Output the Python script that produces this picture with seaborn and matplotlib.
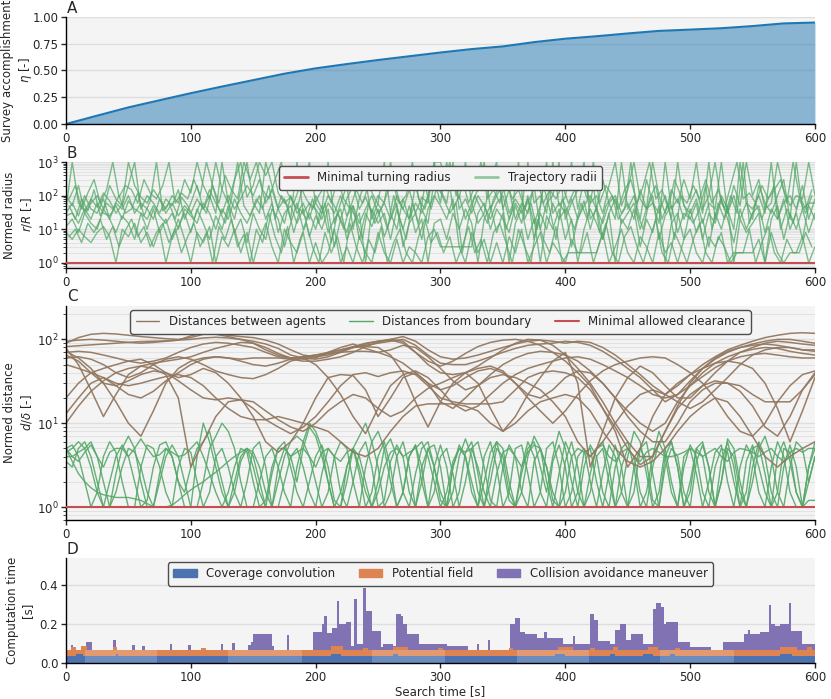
import matplotlib as mpl
mpl.use('Agg')

import matplotlib.pyplot as plt
from matplotlib.lines import Line2D
from matplotlib.patches import Patch
import seaborn as sns
import pandas as pd
import numpy as np

sns.set_style('whitegrid', {'axes.facecolor': '#f4f4f4', 'grid.color': '#dedede',
                            'axes.edgecolor': 'black', 'xtick.bottom': True, 'ytick.left': True})
plt.rcParams['font.family'] = ['DejaVu Sans']
FS = 8.5

deep = sns.color_palette('deep')
blue, orange, green, red, purple, brown = deep[0], deep[1], deep[2], deep[3], deep[4], deep[5]

# ---- A: survey accomplishment
t_a = [0, 25, 50, 75, 100, 125, 150, 175, 200, 225, 250, 275, 300, 325, 350, 375, 400,
       425, 450, 475, 500, 525, 550, 575, 600]
eta = [0.0, 0.078, 0.155, 0.222, 0.288, 0.35, 0.41, 0.47, 0.52, 0.56, 0.598, 0.633, 0.668,
       0.70, 0.725, 0.765, 0.797, 0.82, 0.846, 0.87, 0.882, 0.895, 0.915, 0.94, 0.948]

# ---- B: trajectory radii (r/R), every 5 s and on the half-step grid
t_b = list(range(0, 601, 5))
t_b_half = [i + 2.5 for i in range(0, 600, 5)]
radii_1 = [40, 1000, 60, 35, 80, 45, 120, 70, 30, 55,
           1000, 200, 90, 60, 150, 80, 40, 100, 60, 300,
           120, 1000, 200, 80, 1000, 150, 60, 300, 1000, 90,
           200, 1000, 400, 1000, 120, 60, 90, 40, 200, 1000,
           60, 30, 100, 50, 20, 80, 200, 40, 90, 30,
           100, 60, 1000, 80, 40, 150, 30, 90, 60, 1000,
           1000, 200, 500, 80, 1000, 60, 150, 1000, 40, 100,
           200, 30, 80, 40, 1000, 60, 100, 30, 1000, 50,
           90, 1000, 40, 300, 60, 100, 30, 200, 1000, 50,
           150, 1000, 80, 40, 1000, 100, 30, 150, 60, 300,
           80, 1000, 40, 100, 1000, 60, 30, 200, 50, 1000,
           100, 300, 40, 60, 1000, 150, 50, 100, 80, 1000,
           100]
radii_2 = [25, 30, 15, 40, 20, 60, 30, 25, 50, 20,
           70, 40, 30, 20, 50, 25, 15, 30, 10, 40,
           25, 15, 60, 30, 10, 40, 20, 80, 30, 15,
           40, 100, 20, 60, 8, 30, 50, 15, 40, 6,
           25, 10, 40, 3, 20, 8, 50, 5, 30, 12,
           40, 6, 20, 60, 3, 15, 30, 5, 40, 100,
           50, 20, 80, 3, 3, 3, 30, 60, 10, 40,
           20, 8, 50, 15, 100, 5, 30, 10, 60, 20,
           40, 3, 20, 70, 10, 50, 5, 30, 80, 15,
           30, 60, 10, 40, 100, 5, 25, 50, 8, 30,
           20, 60, 5, 30, 15, 80, 20, 4, 40, 10,
           30, 50, 8, 40, 20, 80, 10, 30, 5, 50,
           20]
radii_3 = [8, 5, 10, 6, 4, 8, 12, 6, 1, 10,
           6, 15, 4, 8, 3, 10, 1, 6, 20, 5,
           1, 8, 4, 12, 1, 6, 3, 10, 2, 8,
           1, 5, 15, 3, 1, 10, 4, 2, 8, 1,
           4, 1, 2, 10, 1, 3, 1, 6, 2, 1,
           8, 2, 1, 5, 1, 3, 2, 1, 6, 10,
           3, 3, 3, 3, 1, 8, 2, 5, 1, 4,
           1, 6, 2, 10, 1, 3, 8, 1, 4, 2,
           1, 5, 2, 2, 2, 2, 8, 1, 3, 10,
           2, 1, 6, 3, 1, 8, 2, 4, 1, 5,
           10, 2, 1, 6, 3, 8, 1, 2, 2, 2,
           2, 5, 1, 8, 2, 1, 2, 2, 6, 1,
           3]
radii_4 = [100, 50, 200, 30, 60, 100, 40, 200, 80, 50,
           200, 1000, 40, 100, 60, 30, 80, 50, 150, 20,
           60, 200, 40, 100, 30, 1000, 60, 20, 150, 1000,
           60, 30, 1000, 200, 40, 15, 100, 30, 60, 20,
           100, 40, 1000, 15, 60, 200, 10, 80, 300, 20,
           60, 1000, 30, 10, 80, 20, 200, 40, 15, 300,
           60, 1000, 40, 100, 20, 60, 15, 30, 300, 1000,
           40, 150, 20, 60, 30, 200, 10, 60, 100, 1000,
           20, 60, 150, 1000, 20, 40, 300, 60, 20, 1000,
           40, 100, 20, 300, 60, 15, 1000, 40, 80, 20,
           60, 150, 30, 1000, 20, 100, 40, 10, 1000, 60,
           20, 200, 60, 30, 100, 300, 20, 1000, 40, 60,
           60]
radii_5 = [12, 20, 8, 30, 15, 10, 40, 20, 8, 25,
           15, 5, 30, 10, 40, 8, 20, 5, 12, 30,
           8, 40, 15, 5, 25, 10, 50, 8, 20, 4,
           30, 10, 5, 40, 20, 3, 15, 60, 10, 30,
           10, 50, 8, 20, 40, 5, 15, 30, 1, 40,
           15, 30, 5, 40, 10, 50, 8, 20, 1, 15,
           20, 5, 30, 10, 40, 15, 1, 20, 50, 8,
           30, 1, 15, 40, 5, 20, 1, 25, 10, 40,
           5, 20, 1, 10, 40, 15, 5, 30, 1, 20,
           10, 40, 3, 20, 8, 50, 1, 15, 30, 5,
           40, 8, 20, 3, 30, 10, 50, 1, 20, 8,
           15, 30, 1, 20, 50, 5, 30, 10, 40, 8,
           30]
radii_6 = [30, 60, 25, 100, 40, 30, 80, 20, 60, 40,
           100, 30, 60, 40, 20, 80, 30, 60, 25, 50,
           30, 80, 40, 150, 60, 30, 100, 40, 80, 200,
           100, 300, 60, 150, 40, 80, 20, 1000, 30, 60,
           40, 20, 60, 30, 100, 25, 50, 15, 40, 100,
           30, 60, 20, 100, 40, 20, 60, 30, 100, 1000,
           150, 60, 1000, 40, 80, 30, 100, 50, 20, 60,
           100, 20, 60, 30, 80, 15, 50, 1000, 30, 60,
           30, 80, 20, 50, 100, 40, 15, 60, 100, 30,
           60, 20, 150, 40, 60, 30, 100, 20, 1000, 50,
           30, 80, 15, 60, 40, 1000, 30, 100, 20, 60,
           40, 100, 30, 1000, 20, 60, 100, 40, 200, 20,
           80]
radii_7 = [50, 20, 80, 35, 150, 25, 60, 40, 100, 30,
           40, 120, 25, 70, 1000, 35, 60, 20, 90, 50,
           20, 60, 30, 200, 40, 15, 80, 1000, 50, 25,
           80, 40, 200, 20, 100, 50, 8, 40, 20, 80,
           15, 60, 4, 30, 10, 50, 20, 5, 60, 15,
           40, 10, 100, 20, 5, 60, 15, 200, 40, 200,
           80, 30, 60, 2, 20, 100, 40, 15, 80, 200,
           10, 40, 1000, 20, 60, 10, 200, 40, 5, 80,
           30, 10, 60, 20, 200, 8, 50, 100, 20, 40,
           1000, 30, 10, 80, 200, 20, 60, 5, 100, 30,
           15, 40, 200, 10, 60, 20, 100, 30, 1000, 15,
           60, 20, 80, 200, 10, 40, 15, 80, 30, 100]
radii_8 = [6, 10, 4, 15, 8, 20, 5, 12, 3, 9,
           20, 6, 12, 3, 8, 15, 4, 10, 2, 6,
           15, 3, 8, 1, 12, 5, 20, 3, 7, 1,
           10, 4, 30, 6, 2, 12, 1, 5, 15, 3,
           1, 8, 2, 6, 1, 15, 3, 1, 5, 2,
           12, 1, 4, 10, 2, 1, 6, 20, 4, 8,
           2, 6, 1, 3, 12, 2, 5, 1, 8, 15,
           4, 1, 10, 3, 1, 20, 5, 2, 12, 1,
           2, 2, 2, 8, 1, 4, 15, 2, 1, 6,
           12, 3, 1, 5, 20, 2, 1, 8, 3, 1,
           5, 15, 2, 1, 6, 3, 1, 2, 2, 10,
           1, 4, 12, 2, 1, 5, 2, 2, 8, 3]
radii_9 = [80, 200, 40, 120, 300, 60, 150, 1000, 90, 200,
           150, 60, 300, 120, 80, 200, 1000, 60, 120, 80,
           300, 100, 1000, 200, 60, 400, 150, 80, 1000, 300,
           1000, 150, 80, 300, 1000, 120, 60, 200, 80, 40,
           100, 200, 60, 300, 80, 40, 150, 60, 200, 80,
           40, 120, 300, 60, 100, 1000, 80, 40, 200, 500,
           200, 1000, 100, 300, 60, 200, 1000, 80, 150, 60,
           300, 80, 150, 40, 100, 300, 60, 150, 80, 200,
           60, 150, 300, 80, 1000, 60, 200, 100, 40, 150,
           300, 60, 200, 1000, 80, 150, 40, 300, 100, 60,
           200, 80, 300, 60, 150, 40, 200, 1000, 80, 120,
           60, 200, 80, 150, 300, 60, 1000, 100, 40, 150]

# ---- C: distances between agents (every 10 s) and from boundary (every 5 s)
t_pair = list(range(0, 601, 10))
pair_1 = [90, 105, 115, 118, 116, 112, 108, 105, 102, 100,
          105, 115, 118, 112, 108, 105, 98, 88, 75, 65,
          62, 65, 72, 80, 88, 95, 100, 108, 95, 75,
          62, 58, 60, 65, 72, 80, 88, 95, 98, 95,
          90, 95, 92, 80, 65, 50, 38, 28, 22, 28,
          38, 50, 62, 75, 85, 95, 105, 112, 118, 120,
          118]
pair_2 = [82, 84, 86, 88, 90, 92, 94, 95, 96, 98,
          100, 104, 106, 104, 100, 95, 88, 78, 65, 60,
          58, 62, 70, 80, 85, 90, 95, 100, 85, 65,
          52, 50, 50, 55, 62, 70, 78, 85, 88, 90,
          95, 92, 85, 72, 58, 45, 35, 25, 18, 22,
          32, 45, 58, 70, 80, 88, 95, 100, 100, 95,
          90]
pair_3 = [78, 50, 25, 12, 22, 38, 48, 52, 55, 58,
          62, 70, 78, 85, 92, 90, 80, 68, 60, 58,
          60, 70, 80, 88, 78, 70, 75, 85, 80, 62,
          45, 32, 25, 28, 38, 50, 60, 68, 72, 70,
          65, 55, 42, 30, 20, 14, 10, 8, 10, 18,
          28, 40, 52, 62, 70, 76, 80, 78, 72, 68,
          65]
pair_4 = [72, 60, 45, 30, 18, 10, 7, 14, 30, 45,
          55, 60, 62, 60, 58, 60, 60, 60, 58, 55,
          55, 58, 62, 70, 82, 92, 100, 95, 70, 50,
          40, 38, 40, 48, 60, 75, 90, 100, 98, 85,
          65, 45, 30, 18, 10, 6, 4, 4, 8, 16,
          30, 45, 60, 72, 80, 85, 88, 85, 80, 75,
          75]
pair_5 = [10, 16, 24, 32, 40, 45, 48, 45, 38, 20,
          3, 6, 12, 18, 19, 18, 14, 11, 9, 8,
          10, 14, 18, 22, 20, 15, 12, 14, 20, 26,
          30, 35, 40, 45, 48, 42, 30, 20, 14, 10,
          14, 22, 32, 42, 50, 55, 60, 62, 60, 50,
          40, 30, 20, 12, 8, 7, 10, 18, 28, 38,
          42]
pair_6 = [20, 30, 40, 45, 50, 55, 58, 50, 40, 35,
          38, 45, 40, 30, 20, 12, 6, 4.5, 6, 10,
          20, 35, 38, 37, 25, 12, 20, 35, 40, 30,
          18, 15, 20, 28, 35, 38, 35, 30, 25, 18,
          12, 6, 4, 6, 10, 16, 22, 25, 22, 18,
          15, 18, 25, 35, 50, 65, 75, 80, 80, 75,
          72]
pair_7 = [13, 20, 30, 35, 28, 22, 20, 24, 32, 40,
          50, 58, 62, 60, 55, 50, 48, 52, 58, 62,
          65, 68, 70, 72, 72, 70, 62, 52, 40, 30,
          25, 28, 35, 42, 45, 40, 30, 22, 20, 25,
          35, 42, 40, 30, 20, 12, 8, 6, 6, 10,
          18, 25, 30, 30, 28, 22, 18, 18, 18, 25,
          40]
pair_8 = [65, 55, 40, 30, 28, 32, 38, 42, 40, 32,
          25, 20, 19, 20, 19, 15, 11, 9, 7.5, 9,
          12, 18, 28, 38, 40, 36, 40, 42, 38, 28,
          20, 18, 17, 17, 17, 18, 25, 35, 40, 42,
          40, 35, 25, 15, 9, 5, 3.2, 4, 8, 15,
          22, 28, 32, 30, 24, 16, 9, 7, 12, 25,
          38]
pair_9 = [60, 62, 58, 50, 40, 35, 40, 50, 58, 62,
          58, 50, 42, 38, 35, 34, 38, 45, 55, 60,
          50, 35, 22, 12, 7.5, 15, 28, 38, 42, 35,
          25, 17, 14, 16, 22, 30, 38, 45, 50, 55,
          60, 62, 58, 50, 42, 35, 28, 22, 20, 22,
          28, 36, 46, 55, 62, 66, 68, 65, 62, 60,
          60]
pair_10 = [70, 72, 70, 65, 60, 55, 52, 55, 60, 70,
           80, 88, 92, 90, 85, 80, 70, 62, 60, 62,
           65, 70, 75, 80, 82, 80, 65, 40, 18, 9,
           18, 30, 40, 30, 15, 8, 12, 22, 35, 55,
           70, 30, 3, 8, 20, 35, 48, 40, 28, 20,
           20, 28, 40, 55, 70, 80, 90, 95, 92, 88,
           85]
pair_11 = [95, 98, 100, 98, 95, 92, 90, 92, 95, 98,
           110, 120, 115, 108, 100, 90, 75, 65, 60, 60,
           62, 68, 75, 82, 90, 95, 98, 90, 70, 55,
           48, 55, 68, 82, 92, 98, 100, 95, 85, 70,
           55, 40, 28, 15, 8, 3, 5, 12, 22, 30,
           38, 45, 52, 55, 52, 45, 30, 15, 6, 14,
           35]
pair_12 = [50, 45, 40, 35, 30, 28, 30, 33, 36, 38,
           35, 28, 20, 15, 12, 11, 11, 12, 11, 10,
           9, 8, 6, 4.5, 4, 5, 8, 12, 16, 17,
           17, 17, 16, 14, 10, 8, 10, 14, 18, 20,
           22, 20, 14, 8, 5, 3.5, 3, 3.5, 5, 8,
           12, 16, 20, 18, 12, 7, 4, 3, 4, 5,
           6]

t_bound = list(range(0, 601, 5))
bound_1 = [5, 4, 3.5, 4.5, 5.5, 4, 2, 1, 1.5, 3,
           5, 4.5, 3, 1.5, 1, 2.5, 5, 4, 2, 1,
           1, 4, 10, 6, 3, 1.5, 1, 2, 4, 5,
           3, 1.5, 1, 2.5, 5, 6, 3, 1.5, 1, 2,
           4, 5.5, 3, 1.2, 1, 3, 5, 2.5, 1, 1.5,
           4, 6, 3, 1, 1.5, 4, 5.5, 2, 1, 3,
           5.5, 3, 1, 1.5, 4.5, 6, 2.5, 1, 2, 5,
           4, 1.5, 1, 3, 6, 4, 1.5, 1, 3.5, 5.5,
           3, 1, 1.5, 4.5, 5, 2, 1, 2.5, 5.5, 3,
           1, 1.5, 5, 6, 2.5, 1, 3, 5, 4, 1.5,
           1, 3.5, 5.5, 3, 1, 2, 5, 4, 1.5, 1,
           3, 6, 4, 1.5, 1, 3, 5.5, 3, 1, 2,
           4]
bound_2 = [4.5, 5, 6, 5, 3, 1.5, 1, 2, 4, 5.5,
           4, 2, 1, 1.2, 3, 5.5, 6, 4, 2, 1.5,
           3, 5, 6, 8, 4, 2, 1, 1.5, 3.5, 5,
           4, 2, 1, 1, 3, 5, 4, 2, 5, 9,
           7, 4, 2, 1, 1.5, 3, 5, 4, 2, 1,
           2, 5, 6.5, 4, 1.5, 1, 2.5, 5, 6, 3,
           1.5, 1, 3, 5.5, 4, 2, 1, 2, 4.5, 6,
           3, 1.2, 1, 2.5, 5, 6, 3, 1.5, 4, 8,
           5, 2, 1, 3, 5.5, 4, 1.5, 1, 3, 5,
           6, 3, 1, 1.5, 4, 8, 5, 2, 1, 3,
           5.5, 4, 1.5, 1, 3, 5, 4.5, 2, 1, 3.5,
           5.5, 3, 1.5, 1, 4, 6, 3.5, 1.5, 1, 3,
           5]
bound_3 = [5, 3.5, 2.5, 2, 1.7, 1.5, 1.4, 1.35, 1.3, 1.3,
           1.3, 1.25, 1.2, 1.1, 1, 1, 1, 1.05, 1.2, 1.4,
           1.6, 1.8, 2, 2.3, 2.6, 3, 3.5, 4, 4.5, 5,
           4.5, 3, 1.5, 1, 2, 4, 6, 7, 6, 4,
           2, 1, 1.5, 4, 6, 5, 2, 1, 3, 6,
           8, 5, 2, 1, 1.5, 4, 5.5, 3, 1, 1.5,
           4, 5, 2.5, 1, 2, 5, 6, 3, 1.2, 1,
           3, 5.5, 4, 1.5, 1, 3.5, 5, 3, 1.2, 1,
           3.5, 6, 3, 1, 1.5, 4, 5, 2, 1, 3,
           5, 4, 1.5, 1, 3, 6, 4, 1.5, 1, 4,
           5, 2.5, 1, 2, 4.5, 5.5, 2, 1, 3, 5.5,
           4, 1.5, 1, 3, 6, 4, 1.5, 1, 1, 1.2,
           1.2]
bound_4 = [3.5, 3, 5, 6, 4, 2, 1, 1, 2.5, 5,
           7, 5, 2, 1, 1, 2, 4, 5.5, 4, 2,
           1, 1, 2, 5, 7, 10, 8, 5, 2, 1,
           1, 2, 4, 5, 3, 1.5, 1, 3, 6, 10,
           8, 5, 2, 1, 1, 2, 5, 7, 10, 6,
           3, 1, 1.5, 4, 6, 3, 1, 2, 5, 5.5,
           3, 1, 1.5, 4, 6.5, 4, 1.5, 1, 3, 6,
           5, 2, 1, 1.5, 4, 7, 5, 2, 1, 2.5,
           6, 4, 1.5, 1, 2.5, 5, 6, 3, 1, 1.5,
           4, 8, 6, 2.5, 1, 1.5, 5, 6, 3, 1,
           1.5, 5, 6, 3, 1, 2, 6.5, 5, 2, 1,
           2, 5, 7, 4, 1.5, 1, 3, 6, 5, 2,
           4]
bound_5 = [5, 5.5, 4, 2, 1, 1.5, 4, 6, 4.5, 2,
           1, 1, 3, 5.5, 5, 3, 1.5, 1, 3, 5,
           4.5, 2, 1, 1.5, 4, 5, 3, 1.5, 1, 2,
           5, 6, 3, 1, 1, 2, 4, 5, 3, 1.5,
           1, 2.5, 5, 4, 1.5, 1, 2, 4.5, 6, 3,
           1, 1.2, 3.5, 5.5, 4, 1.5, 1, 3, 5, 3,
           1.2, 1, 3, 5, 4, 1.5, 1, 4, 6, 3,
           1, 1.5, 5, 5.5, 2.5, 1, 1.5, 5, 6, 3,
           1, 1.5, 4, 5, 2, 1, 2.5, 5.5, 4, 1.5,
           1, 3, 5, 3.5, 1.2, 1, 4, 6, 3, 1,
           2, 5, 4, 1.5, 1, 3.5, 6, 3, 1, 1.5,
           5, 5.5, 2.5, 1, 1.5, 5, 4.5, 1.5, 1, 3,
           6]
bound_6 = [4, 4, 4.5, 5, 6, 4, 3, 4.5, 5, 5,
           4, 5, 6.5, 5, 4, 4.2, 5, 4.5, 4, 4.2,
           5, 6, 4, 2.5, 1.5, 1, 1.5, 3, 5, 4.5,
           2, 1, 1.2, 3, 5, 5, 4, 4.5, 5, 4,
           3, 4.5, 5, 4, 3.5, 4.5, 5, 3, 1.5, 1,
           1.5, 3, 4.5, 5, 4, 4.5, 5, 6, 4, 2,
           1, 1.5, 3.5, 5, 4.5, 5, 3, 1.5, 1, 2.5,
           4.5, 5, 4, 3, 4.5, 5.5, 5, 3, 1.5, 1,
           1.5, 4, 5, 4.5, 4, 5, 5.5, 4, 3.5, 4.5,
           5, 4, 3.5, 4.5, 5, 4.5, 4, 4, 4.2, 4.5,
           5, 4.5, 4, 4.5, 5, 4, 3.5, 4.5, 5, 4.8,
           4.5, 4, 4.5, 5, 4, 3.5, 4.5, 5, 4.5, 5,
           5]

# ---- D: computation time, cumulative tops of step series [s]
cov_t = [0, 8, 14, 40, 42, 212, 220, 262, 266, 392, 400, 436, 440, 462, 470, 484, 488, 572, 582, 600]
cov_v = [0.036, 0.046, 0.036, 0.044, 0.036, 0.046, 0.036, 0.044, 0.036, 0.046, 0.036,
         0.045, 0.036, 0.046, 0.036, 0.045, 0.036, 0.046, 0.036, 0.036]
pot_t = [0, 4, 8, 12, 17, 38, 41, 108, 112, 212, 222, 238, 242, 262, 274, 298, 302, 355, 358,
         394, 406, 420, 424, 438, 442, 466, 474, 488, 492, 572, 586, 594, 598, 600]
pot_v = [0.066, 0.08, 0.066, 0.088, 0.066, 0.08, 0.066, 0.075, 0.066, 0.086, 0.066, 0.078, 0.066,
         0.082, 0.066, 0.078, 0.066, 0.076, 0.066, 0.082, 0.066, 0.078, 0.066, 0.08, 0.066,
         0.084, 0.066, 0.078, 0.066, 0.082, 0.066, 0.08, 0.066, 0.066]
coll_t = [0, 4, 6, 16, 21, 38, 40, 53, 55, 61, 63, 83, 85, 98, 100, 124, 126, 133, 135, 146,
          148, 150, 152, 165, 167, 177, 179, 198, 205, 207, 209, 213, 217, 219, 224, 228, 231,
          233, 238, 240, 245, 252, 254, 262, 264, 268, 270, 273, 283, 305, 322, 329, 331, 338,
          340, 356, 360, 364, 368, 377, 383, 385, 398, 406, 408, 420, 423, 426, 436, 440, 444,
          449, 453, 462, 470, 473, 477, 479, 481, 490, 500, 517, 526, 543, 546, 548, 556, 563,
          565, 568, 572, 574, 579, 581, 590, 600]
coll_v = [0.0, 0.095, 0.0, 0.11, 0.0, 0.118, 0.0, 0.095, 0.0, 0.088, 0.0, 0.098, 0.0, 0.095,
          0.0, 0.098, 0.0, 0.105, 0.0, 0.095, 0.11, 0.15, 0.148, 0.09, 0.0, 0.145, 0.0, 0.157,
          0.2, 0.24, 0.155, 0.18, 0.32, 0.2, 0.21, 0.09, 0.33, 0.1, 0.385, 0.27, 0.165, 0.08,
          0.1, 0.09, 0.25, 0.24, 0.2, 0.15, 0.1, 0.09, 0.0, 0.098, 0.0, 0.12, 0.0, 0.2, 0.23,
          0.16, 0.15, 0.13, 0.16, 0.13, 0.1, 0.14, 0.1, 0.25, 0.22, 0.115, 0.1, 0.17, 0.2, 0.12,
          0.15, 0.1, 0.28, 0.31, 0.29, 0.2, 0.21, 0.11, 0.08, 0.0, 0.11, 0.15, 0.17, 0.15, 0.16,
          0.3, 0.2, 0.19, 0.2, 0.2, 0.31, 0.165, 0.1, 0.1]
light_start = [15, 130, 245, 361, 476]
light_end = [73, 189, 304, 419, 535]

# ---------------------------------------------------------------
fig = plt.figure(figsize=(8.31, 6.99), dpi=100)
left, width = 0.0794, 0.9013
axA = fig.add_axes([left, 0.8226, width, 0.1531])
axB = fig.add_axes([left, 0.6166, width, 0.1516])
axC = fig.add_axes([left, 0.2561, width, 0.3061])
axD = fig.add_axes([left, 0.0515, width, 0.1502])


def long_df(groups, name):
    parts = []
    k = 0
    for t, series in groups:
        for s in series:
            parts.append(pd.DataFrame({'t': t, name: np.asarray(s, float), 'unit': k}))
            k += 1
    return pd.concat(parts, ignore_index=True)


leg_kw = dict(loc='upper center', fontsize=FS, framealpha=1, edgecolor='0.3',
              borderaxespad=0.35, borderpad=0.45)

# A
dfa = pd.DataFrame({'t': t_a, 'eta': eta})
axA.fill_between(dfa.t, 0, dfa.eta, color='#1f77b4', alpha=0.5, lw=0)
sns.lineplot(data=dfa, x='t', y='eta', color='#1f77b4', lw=1.5, ax=axA)
axA.set_ylim(0, 1)
axA.set_yticks([0, 0.25, 0.5, 0.75, 1.0])
axA.set_yticklabels(['0.00', '0.25', '0.50', '0.75', '1.00'])
axA.set_ylabel('Survey accomplishment\n$\\eta$ [-]', fontsize=FS)

# B
dfb = long_df([(t_b, [radii_1, radii_2, radii_3, radii_4, radii_5, radii_6]),
               (t_b_half, [radii_7, radii_8, radii_9])], 'r')
sns.lineplot(data=dfb, x='t', y='r', units='unit', estimator=None, color=green,
             alpha=0.75, lw=1, ax=axB, legend=False)
axB.axhline(1, color=red, lw=1.5, zorder=4)
axB.set_yscale('log')
axB.set_ylim(0.7, 1000)
axB.set_ylabel('Normed radius\n$r/R$ [-]', fontsize=FS)
axB.legend([Line2D([], [], color=red, lw=2), Line2D([], [], color=green, alpha=0.6, lw=2)],
           ['Minimal turning radius', 'Trajectory radii'], ncol=2, **leg_kw)

# C
dfp = long_df([(t_pair, [pair_1, pair_2, pair_3, pair_4, pair_5, pair_6, pair_7, pair_8,
                         pair_9, pair_10, pair_11, pair_12])], 'd')
dfg = long_df([(t_bound, [bound_1, bound_2, bound_3, bound_4, bound_5, bound_6])], 'd')
sns.lineplot(data=dfg, x='t', y='d', units='unit', estimator=None, color=green,
             alpha=0.9, lw=1, ax=axC, legend=False)
sns.lineplot(data=dfp, x='t', y='d', units='unit', estimator=None, color=brown,
             alpha=0.95, lw=1.1, ax=axC, legend=False)
axC.axhline(1, color=red, lw=1.5, zorder=4)
axC.set_yscale('log')
axC.set_ylim(0.7, 250)
axC.set_ylabel('Normed distance\n$d/\\delta$ [-]', fontsize=FS)
axC.legend([Line2D([], [], color=brown, lw=1), Line2D([], [], color=green, lw=1),
            Line2D([], [], color=red, lw=1.5)],
           ['Distances between agents', 'Distances from boundary', 'Minimal allowed clearance'],
           ncol=3, **leg_kw)

# D
axD.fill_between(coll_t, 0, coll_v, step='post', color=purple, lw=0, zorder=2)
axD.fill_between(pot_t, 0, pot_v, step='post', color=orange, lw=0, zorder=2)
axD.fill_between(cov_t, 0, cov_v, step='post', color=blue, lw=0, zorder=2)
for a, b in zip(light_start, light_end):
    axD.fill_between([a, b], 0, 0.066, color='white', alpha=0.18, lw=0, zorder=2.5)
axD.set_ylim(0, 0.54)
axD.set_yticks([0.0, 0.2, 0.4])
axD.set_ylabel('Computation time\n[s]', fontsize=FS)
axD.set_xlabel('Search time [s]', fontsize=FS, labelpad=1)
axD.legend([Patch(color=blue), Patch(color=orange), Patch(color=purple)],
           ['Coverage convolution', 'Potential field', 'Collision avoidance maneuver'],
           ncol=3, **leg_kw)

for ax, lab in zip([axA, axB, axC, axD], 'ABCD'):
    ax.set_xlim(0, 600)
    ax.set_xticks(range(0, 601, 100))
    ax.xaxis.grid(False)
    ax.yaxis.grid(True, which='major', color='#dedede', lw=1)
    if ax in (axB, axC):
        ax.yaxis.grid(True, which='minor', color='#e2e2e2', lw=0.8)
    ax.set_axisbelow(True)
    ax.tick_params(labelsize=FS, length=3.5, width=1, pad=2)
    if ax is not axD:
        ax.set_xlabel('')
    ax.yaxis.set_label_coords(-0.043, 0.5)
    sns.despine(ax=ax)
    for s in ('left', 'bottom'):
        ax.spines[s].set_color('black')
        ax.spines[s].set_linewidth(1)
    ax.text(0.001, 1.01, lab, transform=ax.transAxes, fontsize=11, va='bottom', ha='left')

fig.savefig('out.png', dpi=100)
